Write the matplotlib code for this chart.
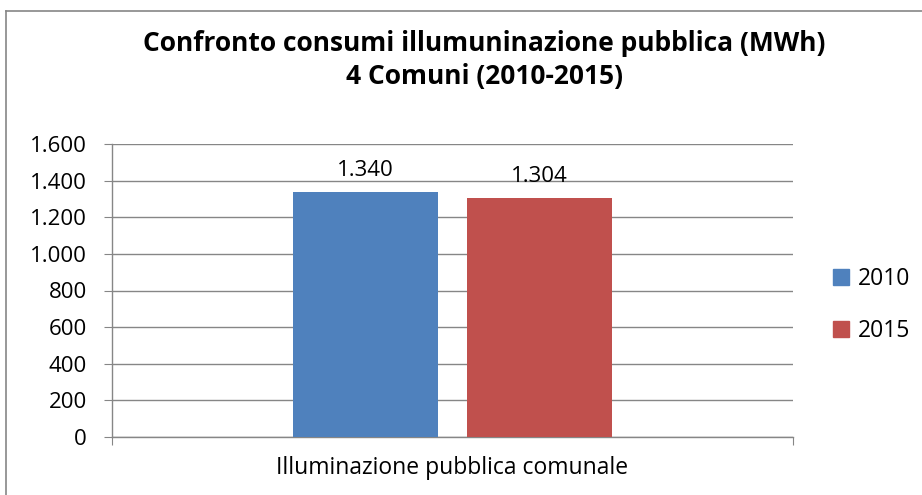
import matplotlib
matplotlib.use("Agg")
import matplotlib.pyplot as plt
from matplotlib.patches import Patch
from matplotlib.lines import Line2D

category = "Illuminazione pubblica comunale"
series = ["2010", "2015"]
values = [1340, 1304]
colors = ["#4F81BD", "#C0504D"]
yticks = [0, 200, 400, 600, 800, 1000, 1200, 1400, 1600]
title = "Confronto consumi illumuninazione pubblica (MWh)\n4 Comuni (2010-2015)"

def fmt(v):
    return f"{v:,}".replace(",", ".")

plt.rcParams['font.family'] = ['Open Sans', 'DejaVu Sans']

W, H = 922, 495
fig = plt.figure(figsize=(W/100, H/100), dpi=100)
fig.patch.set_facecolor("white")

# outer chart border (left and top visible)
fig.add_artist(Line2D([5.5/W, 5.5/W], [0, 1 - 10.5/H], color="#868686", lw=1.2))
fig.add_artist(Line2D([5.5/W, 1], [1 - 10.5/H, 1 - 10.5/H], color="#868686", lw=1.2))

ax = fig.add_axes([112/W, 1 - 437/H, (793-112)/W, (437-144)/H])
offsets = [-0.1275, 0.1275]
width = 0.213
for off, v, c in zip(offsets, values, colors):
    ax.bar(off, v, width=width, color=c, zorder=3)
    ax.annotate(fmt(v), (off, v), xytext=(0, 8), textcoords="offset points",
                ha="center", va="bottom", fontsize=16, color="black")

ax.set_xlim(-0.5, 0.5)
ax.set_ylim(0, 1600)
ax.set_yticks(yticks)
ax.set_yticklabels([fmt(t) for t in yticks], fontsize=16)
ax.set_xticks([-0.5, 0.5])
ax.set_xticklabels(["", ""])
ax.tick_params(axis="x", length=6, color="#868686", direction="out")
ax.tick_params(axis="y", length=6, color="#868686", direction="out", pad=12)
ax.grid(axis="y", color="#868686", lw=1, zorder=0)
for s in ["top", "right"]:
    ax.spines[s].set_visible(False)
for s in ["left", "bottom"]:
    ax.spines[s].set_color("#868686")
    ax.spines[s].set_linewidth(1)
ax.text(452/W, 1 - 468/H, category, transform=fig.transFigure, ha="center", va="center", fontsize=16.5)

fig.text(484/W, 1 - 60/H, title, ha="center", va="center", fontsize=19,
         fontweight="bold", linespacing=1.25)

handles = [Patch(facecolor=c, edgecolor=c) for c in colors]
fig.legend(handles, series, loc="center left", bbox_to_anchor=(812/W, 1 - 305/H),
           frameon=False, fontsize=16.5, handlelength=0.7, handleheight=0.7,
           handletextpad=0.4, labelspacing=1.2)

fig.savefig("out.png", dpi=100, facecolor="white")
